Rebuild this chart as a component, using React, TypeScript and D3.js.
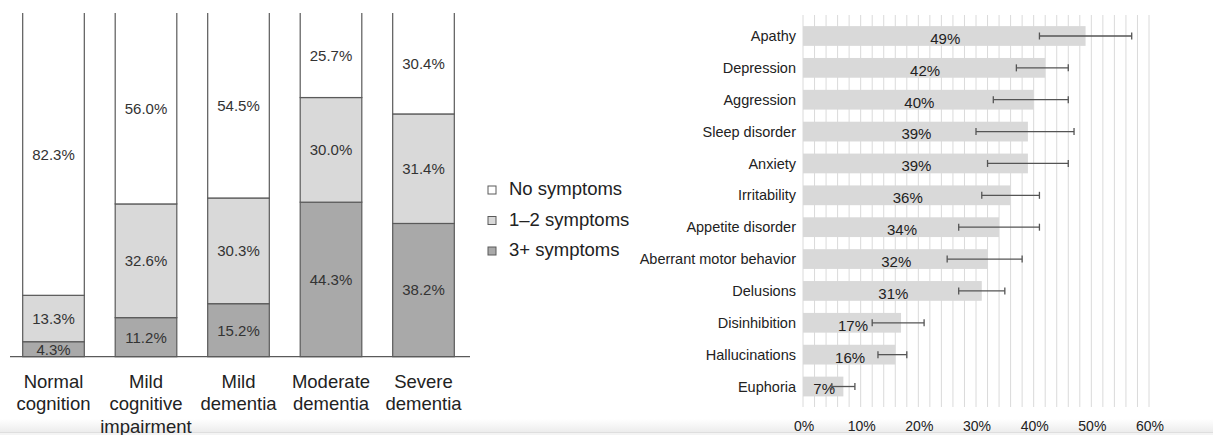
import React from "react";
import * as d3 from "d3";

const stageNames: string[][] = [
  ["Normal", "cognition"],
  ["Mild", "cognitive", "impairment"],
  ["Mild", "dementia"],
  ["Moderate", "dementia"],
  ["Severe", "dementia"],
];
const stageKeys = ["normal", "mci", "mild", "moderate", "severe"];
const threePlus = [4.3, 11.2, 15.2, 44.3, 38.2];
const oneTwo = [13.3, 32.6, 30.3, 30.0, 31.4];
const noSymptoms = [82.3, 56.0, 54.5, 25.7, 30.4];
const legendLabels = ["No symptoms", "1\u20132 symptoms", "3+ symptoms"];

const symptoms = [
  "Apathy",
  "Depression",
  "Aggression",
  "Sleep disorder",
  "Anxiety",
  "Irritability",
  "Appetite disorder",
  "Aberrant motor behavior",
  "Delusions",
  "Disinhibition",
  "Hallucinations",
  "Euphoria",
];
const prevalence = [49, 42, 40, 39, 39, 36, 34, 32, 31, 17, 16, 7];
const ciLow = [41, 37, 33, 30, 32, 31, 27, 25, 27, 12, 13, 5];
const ciHigh = [57, 46, 46, 47, 46, 41, 41, 38, 35, 21, 18, 9];
const xTicks = [0, 10, 20, 30, 40, 50, 60];

const FONT = "'Liberation Sans', Arial, Helvetica, sans-serif";
const segColors = ["#a9a9a9", "#d9d9d9", "#ffffff"]; // 3+, 1-2, none
const legendColors = ["#ffffff", "#d9d9d9", "#a9a9a9"];

export default function App() {
  const W = 1213;
  const H = 435;

  // Left stacked chart
  const xL = d3
    .scaleBand<string>()
    .domain(stageKeys)
    .range([7.25, 469.75])
    .paddingInner(0.334)
    .paddingOuter(0.167);
  const yL = d3.scaleLinear().domain([0, 100]).range([356.7, 7.9]);
  const rows = stageKeys.map((k, i) => ({
    key: k,
    threePlus: threePlus[i],
    oneTwo: oneTwo[i],
    none: noSymptoms[i],
  }));
  const stack = d3.stack<any>().keys(["threePlus", "oneTwo", "none"]);
  const series = stack(rows);

  // Right bar chart
  const xR = d3.scaleLinear().domain([0, 60]).range([803, 1149]);
  const yR = d3.scaleBand<string>().domain(symptoms).range([14, 408.5]).padding(0.38);
  const grid = d3.range(0, 61, 2);

  return (
    <svg
      width={W}
      height={H}
      style={{ position: "absolute", left: 0, top: 0, background: "#fff" }}
      fontFamily={FONT}
    >
      <defs>
        <clipPath id="leftClip">
          <rect x={0} y={13} width={480} height={400} />
        </clipPath>
        <linearGradient id="bottomFade" x1="0" y1="0" x2="0" y2="1">
          <stop offset="0" stopColor="#ffffff" />
          <stop offset="1" stopColor="#ebebeb" />
        </linearGradient>
      </defs>
      <rect x={0} y={0} width={W} height={H} fill="#fff" />
      <rect x={0} y={419} width={W} height={14} fill="url(#bottomFade)" />
      <rect x={0} y={432.5} width={W} height={3} fill="#f4f4f4" />
      <line x1={0} x2={W} y1={432.5} y2={432.5} stroke="#dedede" strokeWidth={1} />

      {/* Left stacked bars */}
      <g clipPath="url(#leftClip)">
        {series.map((s, si) =>
          s.map((d, i) => (
            <rect
              key={`${si}-${i}`}
              x={xL(stageKeys[i])}
              y={yL(d[1])}
              width={xL.bandwidth()}
              height={yL(d[0]) - yL(d[1])}
              fill={segColors[si]}
              stroke="#5a5a5a"
              strokeWidth={1.2}
            />
          ))
        )}
      </g>
      {series.map((s, si) =>
        s.map((d, i) => (
          <text
            key={`t${si}-${i}`}
            x={(xL(stageKeys[i]) as number) + xL.bandwidth() / 2}
            y={(yL(d[0]) + Math.max(yL(d[1]), 13)) / 2}
            dy="0.36em"
            textAnchor="middle"
            fontSize={15}
            fill="#333"
          >
            {(d[1] - d[0]).toFixed(1)}%
          </text>
        ))
      )}
      <line x1={10} x2={470} y1={yL(0)} y2={yL(0)} stroke="#5a5a5a" strokeWidth={1.3} />
      {stageNames.map((lines, i) => (
        <text
          key={`c${i}`}
          x={(xL(stageKeys[i]) as number) + xL.bandwidth() / 2}
          y={388}
          textAnchor="middle"
          fontSize={18.5}
          fill="#222"
        >
          {lines.map((ln, j) => (
            <tspan key={j} x={(xL(stageKeys[i]) as number) + xL.bandwidth() / 2} y={388 + j * 22.3}>
              {ln}
            </tspan>
          ))}
        </text>
      ))}

      {/* Legend */}
      {legendLabels.map((lab, i) => (
        <g key={`l${i}`} transform={`translate(488, ${190 + i * 30.5})`}>
          <rect x={0} y={-4} width={8} height={8} fill={legendColors[i]} stroke="#5a5a5a" strokeWidth={1} />
          <text x={21} y={-1} dy="0.35em" fontSize={18.5} fill="#222">
            {lab}
          </text>
        </g>
      ))}

      {/* Right chart gridlines */}
      {grid.map((g) => (
        <line
          key={`g${g}`}
          x1={xR(g)}
          x2={xR(g)}
          y1={15}
          y2={407}
          stroke="#dadada"
          strokeWidth={1}
        />
      ))}
      {symptoms.map((s, i) => {
        const y0 = yR(s) as number;
        const bh = yR.bandwidth();
        const cy = y0 + bh / 2;
        return (
          <g key={s}>
            <rect x={xR(0)} y={y0} width={xR(prevalence[i]) - xR(0)} height={bh} fill="#d9d9d9" />
            <text
              x={(xR(0) + xR(prevalence[i])) / 2 + 1}
              y={cy + 2.5}
              dy="0.36em"
              textAnchor="middle"
              fontSize={15}
              fill="#222"
            >
              {prevalence[i]}%
            </text>
            <line x1={xR(ciLow[i])} x2={xR(ciHigh[i])} y1={cy} y2={cy} stroke="#555" strokeWidth={1.3} />
            <line x1={xR(ciLow[i])} x2={xR(ciLow[i])} y1={cy - 3.5} y2={cy + 3.5} stroke="#555" strokeWidth={1.3} />
            <line x1={xR(ciHigh[i])} x2={xR(ciHigh[i])} y1={cy - 3.5} y2={cy + 3.5} stroke="#555" strokeWidth={1.3} />
            <text x={796} y={cy} dy="0.35em" textAnchor="end" fontSize={14.5} fill="#222">
              {s}
            </text>
          </g>
        );
      })}
      {xTicks.map((t) => (
        <text key={`x${t}`} x={xR(t) + 1} y={426.5} dy="0.35em" textAnchor="middle" fontSize={14} fill="#222">
          {t}%
        </text>
      ))}
    </svg>
  );
}
